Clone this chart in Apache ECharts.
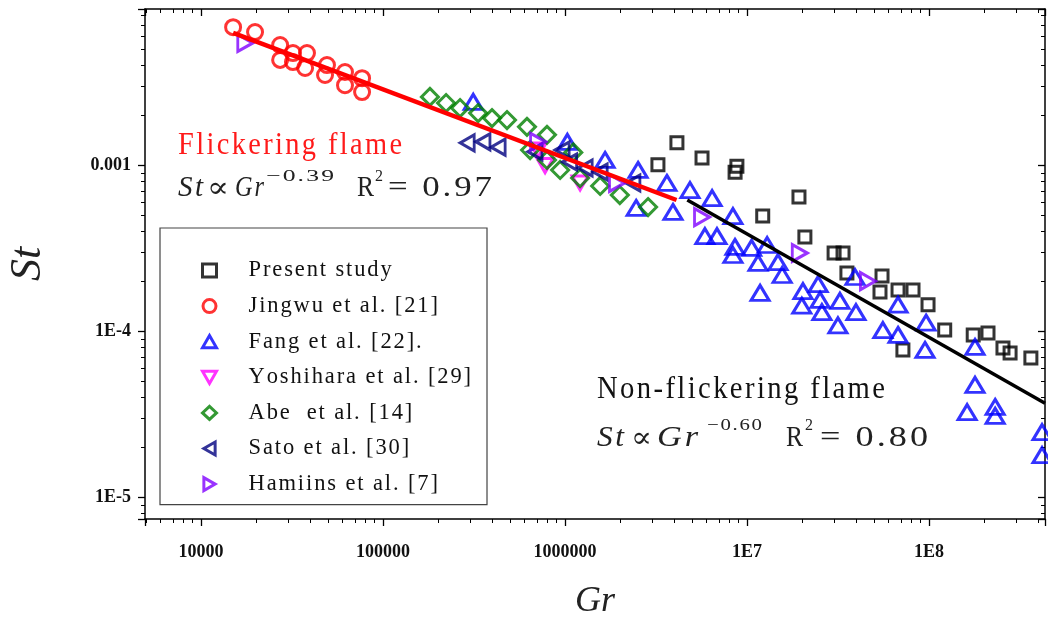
<!DOCTYPE html>
<html>
<head>
<meta charset="utf-8">
<script src="https://cdn.jsdelivr.net/npm/echarts@6/dist/echarts.min.js"></script>
<style>
  html, body { margin: 0; padding: 0; background: #fff; }
  #chart { width: 1048px; height: 617px; }
</style>
</head>
<body>
<div id="chart"></div>
<script>
  // tick labels
  const xTicks = [1e4, 1e5, 1e6, 1e7, 1e8]
  const xTickLabels = ['10000', '100000', '1000000', '1E7', '1E8']
  const yTicks = [1e-3, 1e-4, 1e-5]
  const yTickLabels = ['0.001', '1E-4', '1E-5']

  // [Gr, St]
  const present = [
    [3.24e6, 1.01e-3], [4.12e6, 1.37e-3], [5.66e6, 1.11e-3], [8.8e6, 9.9e-4],
    [8.6e6, 9.1e-4], [1.22e7, 4.96e-4], [1.93e7, 6.46e-4], [2.08e7, 3.71e-4],
    [3.01e7, 2.97e-4], [3.37e7, 2.97e-4], [3.54e7, 2.25e-4], [5.52e7, 2.16e-4],
    [5.38e7, 1.73e-4], [6.76e7, 1.78e-4], [8.17e7, 1.78e-4], [9.88e7, 1.45e-4],
    [1.22e8, 1.02e-4], [7.19e7, 7.74e-5], [1.75e8, 9.53e-5], [2.11e8, 9.8e-5],
    [2.55e8, 7.96e-5], [2.79e8, 7.41e-5], [3.63e8, 6.92e-5]
  ]
  const jingwu = [
    [1.50e4, 6.82e-3], [1.98e4, 6.37e-3], [2.72e4, 5.32e-3], [2.72e4, 4.33e-3],
    [3.2e4, 4.76e-3], [3.2e4, 4.20e-3], [3.82e4, 4.76e-3], [3.73e4, 3.87e-3],
    [4.92e4, 4.03e-3], [4.8e4, 3.51e-3], [6.18e4, 3.66e-3], [6.18e4, 3.05e-3],
    [7.67e4, 3.36e-3], [7.67e4, 2.77e-3]
  ]
  const fang = [
    [3.13e5, 2.42e-3], [1.03e6, 1.39e-3], [1.66e6, 1.08e-3], [2.52e6, 9.4e-4],
    [3.63e6, 7.85e-4], [4.86e6, 7.12e-4], [6.43e6, 6.37e-4], [2.46e6, 5.55e-4],
    [3.92e6, 5.25e-4], [8.37e6, 4.96e-4], [5.87e6, 3.76e-4], [6.84e6, 3.76e-4],
    [8.59e6, 3.23e-4], [8.37e6, 2.89e-4], [1.06e7, 3.19e-4], [1.29e7, 3.32e-4],
    [1.15e7, 2.59e-4], [1.48e7, 2.62e-4], [1.56e7, 2.19e-4], [1.18e7, 1.71e-4],
    [2.03e7, 1.75e-4], [2.46e7, 1.93e-4], [2.0e7, 1.43e-4], [2.52e7, 1.55e-4],
    [2.58e7, 1.31e-4], [3.24e7, 1.53e-4], [3.16e7, 1.09e-4], [3.92e7, 2.13e-4],
    [3.97e7, 1.31e-4], [5.58e7, 1.02e-4], [6.76e7, 1.45e-4], [6.76e7, 9.53e-5],
    [9.64e7, 1.13e-4], [9.51e7, 7.74e-5], [1.79e8, 8.07e-5], [1.79e8, 4.77e-5],
    [1.62e8, 3.27e-5], [2.31e8, 3.51e-5], [2.31e8, 3.1e-5], [4.18e8, 2.48e-5],
    [4.18e8, 1.80e-5]
  ]
  const yoshihara = [[7.11e5, 1.24e-3], [7.77e5, 1.0e-3], [1.21e6, 7.85e-4]]
  const abe = [
    [1.81e5, 2.59e-3], [2.22e5, 2.38e-3], [2.65e5, 2.22e-3], [3.33e5, 2.07e-3],
    [3.97e5, 1.93e-3], [4.8e5, 1.88e-3], [6.18e5, 1.71e-3], [7.96e5, 1.53e-3],
    [6.43e5, 1.24e-3], [7.96e5, 1.08e-3], [9.4e5, 9.4e-4], [1.21e6, 8.41e-4],
    [1.56e6, 7.53e-4], [2.0e6, 6.64e-4], [2.86e6, 5.62e-4], [1.11e6, 1.2e-3]
  ]
  const sato = [
    [2.9e5, 1.37e-3], [3.54e5, 1.39e-3], [4.29e5, 1.29e-3], [6.84e5, 1.21e-3],
    [9.64e5, 1.24e-3], [1.06e6, 1.05e-3], [1.29e6, 9.66e-4], [1.56e6, 9.14e-4],
    [2.36e6, 7.85e-4]
  ]
  const hamiins = [
    [1.75e4, 5.47e-3], [7.11e5, 1.39e-3], [1.93e6, 7.85e-4], [5.66e6, 4.89e-4],
    [1.95e7, 2.97e-4], [4.62e7, 2.01e-4]
  ]
  // fitted lines (end points)
  const flickerFit = [[1.5e4, 6.3e-3], [4.1e6, 6.2e-4]]
  const nonFlickerFit = [[4.7e6, 6.2e-4], [4.34e8, 3.7e-5]]

  const serif = '"Liberation Serif", "DejaVu Serif", serif'
  const measureCtx = document.createElement('canvas').getContext('2d')

  function pickLabel(val, ticks, labels) {
    for (let i = 0; i < ticks.length; i++) {
      if (Math.abs(Math.log10(val) - Math.log10(ticks[i])) < 1e-6) return labels[i]
    }
    return ''
  }

  // the original text is set wide: add hair spaces, then stretch to run x0..x1
  function fitText(text, x0, x1, yMid, size, italic, color) {
    const font = (italic ? 'italic ' : '') + size + 'px ' + serif
    const spaced = text.split('').join('\u200a')
    measureCtx.font = font
    const w = measureCtx.measureText(spaced).width
    return {
      type: 'text', x: x0, y: yMid, scaleX: (x1 - x0) / w, z: 10,
      style: { text: spaced, font: font, fill: color, align: 'left', verticalAlign: 'middle' }
    }
  }

  function scatter(name, data, symbol, color, size, rotate) {
    return {
      name: name,
      type: 'scatter',
      data: data,
      symbol: symbol,
      symbolSize: size,
      symbolRotate: rotate || 0,
      itemStyle: { color: 'rgba(255,255,255,0)', borderColor: color, borderWidth: 3 },
      z: 3
    }
  }

  function logAxis(pos, min, max, main, fmt) {
    return {
      type: 'log',
      logBase: 10,
      position: pos,
      min: min,
      max: max,
      axisLine: { show: true, onZero: false, lineStyle: { color: '#000', width: 1.5 } },
      axisTick: { show: true, inside: !main, length: 7, lineStyle: { color: '#000', width: 1.3 } },
      minorTick: { show: true, splitNumber: 9, length: 4, lineStyle: { color: '#000', width: 1 } },
      splitLine: { show: false },
      minorSplitLine: { show: false },
      axisLabel: {
        show: main,
        showMinLabel: false,
        showMaxLabel: false,
        fontFamily: serif,
        fontSize: 18,
        fontWeight: 'bold',
        color: '#111',
        margin: pos === 'bottom' ? 24 : 14,
        formatter: fmt
      }
    }
  }

  const xMin = 4920, xMax = 4.34e8
  const yMin = 7.42e-6, yMax = 8.77e-3

  const chart = echarts.init(document.getElementById('chart'))
  const xMain = logAxis('bottom', xMin, xMax, true, v => pickLabel(v, xTicks, xTickLabels))
  xMain.name = 'Gr'
  xMain.nameLocation = 'middle'
  xMain.nameGap = 65
  xMain.nameTextStyle = { fontFamily: serif, fontStyle: 'italic', fontSize: 36, color: '#222' }
  const yMain = logAxis('left', yMin, yMax, true, v => pickLabel(v, yTicks, yTickLabels))
  yMain.name = 'St'
  yMain.nameLocation = 'middle'
  yMain.nameGap = 95
  yMain.nameRotate = 90
  yMain.nameTextStyle = { fontFamily: serif, fontStyle: 'italic', fontSize: 44, color: '#222' }

  const legendItems = [
    { name: 'Present study', icon: 'rect', color: '#000' },
    { name: 'Jingwu et al. [21]', icon: 'circle', color: '#ff0000' },
    { name: 'Fang et al. [22].', icon: 'path://M8,0L16,14L0,14Z', color: '#0000ff' },
    { name: 'Yoshihara et al. [29]', icon: 'path://M0,0L16,0L8,14Z', color: '#ff00ff' },
    { name: 'Abe  et al. [14]', icon: 'diamond', color: '#008000' },
    { name: 'Sato et al. [30]', icon: 'path://M13,0L13,15L0,7.5Z', color: '#000080' },
    { name: 'Hamiins et al. [7]', icon: 'path://M0,0L0,15L13,7.5Z', color: '#8000ff' }
  ]

  const dark = '#222'
  chart.setOption({
    animation: false,
    backgroundColor: '#fff',
    grid: { left: 145, right: 3, top: 9, bottom: 98, outerBoundsMode: 'none' },
    xAxis: [xMain, logAxis('top', xMin, xMax, false, () => '')],
    yAxis: [yMain, logAxis('right', yMin, yMax, false, () => '')],
    legend: {
      orient: 'vertical',
      left: 160,
      top: 228,
      selectedMode: false,
      data: legendItems.map(d => ({
        name: d.name,
        icon: d.icon,
        itemStyle: { color: 'rgba(255,255,255,0)', borderColor: d.color, borderWidth: 3 }
      })),
      itemWidth: 14,
      itemHeight: 13,
      itemGap: 12.6,
      padding: [31, 16, 9, 41],
      borderColor: '#444',
      borderWidth: 1.2,
      backgroundColor: '#fff',
      formatter: name => name.split('').join('\u200a'),
      textStyle: { fontFamily: serif, fontSize: 22.5, lineHeight: 22, color: '#111', padding: [0, 0, 0, 27] }
    },
    graphic: [
      fitText('Flickering flame', 178, 402, 146, 31, false, '#ff1a1a'),
      fitText('St', 178, 203, 188, 29, true, dark),
      fitText('∝', 207, 229, 189, 29, false, dark),
      fitText('Gr', 235, 264, 188, 29, true, dark),
      fitText('−0.39', 266, 334, 177, 17, false, dark),
      fitText('R', 357, 374, 188, 29, false, dark),
      fitText('2', 375, 383, 177, 17, false, dark),
      fitText('= 0.97', 388, 492, 188, 29, false, dark),
      fitText('Non-flickering flame', 597, 885, 390, 31, false, '#111'),
      fitText('St', 597, 624, 438, 29, true, dark),
      fitText('∝', 631, 652, 439, 29, false, dark),
      fitText('Gr', 657, 698, 438, 29, true, dark),
      fitText('−0.60', 707, 762, 426, 17, false, dark),
      fitText('R', 786, 803, 438, 29, false, dark),
      fitText('2', 805, 813, 426, 17, false, dark),
      fitText('= 0.80', 820, 928, 438, 29, false, dark)
    ],
    series: [
      scatter('Present study', present, 'rect', '#000', 12),
      scatter('Jingwu et al. [21]', jingwu, 'circle', '#ff0000', 15),
      scatter('Fang et al. [22].', fang, 'triangle', '#0000ff', [18, 15]),
      scatter('Yoshihara et al. [29]', yoshihara, 'triangle', '#ff00ff', [16, 14], 180),
      scatter('Abe  et al. [14]', abe, 'diamond', '#008000', 17),
      scatter('Sato et al. [30]', sato, 'triangle', '#000080', [16, 14], 90),
      scatter('Hamiins et al. [7]', hamiins, 'triangle', '#8000ff', [17, 15], -90),
      {
        type: 'line', data: flickerFit, symbol: 'none', z: 5,
        lineStyle: { color: '#ff0000', width: 4.5 }
      },
      {
        type: 'line', data: nonFlickerFit, symbol: 'none', z: 5,
        lineStyle: { color: '#000', width: 3.5 }
      }
    ]
  })
</script>
</body>
</html>
